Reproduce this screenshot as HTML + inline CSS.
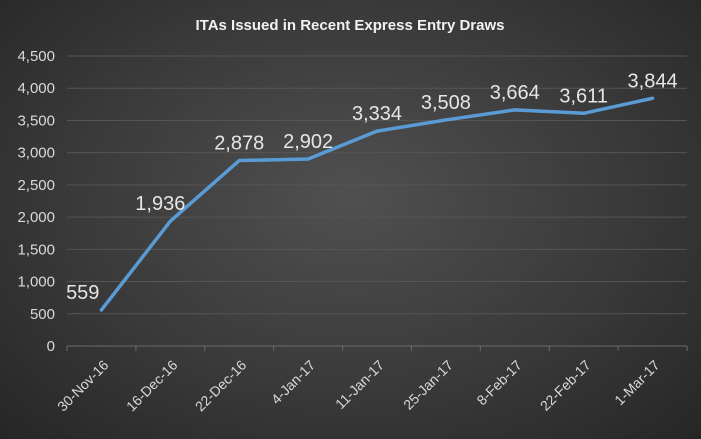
<!DOCTYPE html>
<html><head><meta charset="utf-8"><style>
html,body{margin:0;padding:0;}
body{width:701px;height:439px;overflow:hidden;background:radial-gradient(ellipse at 50% 45%,#505050 0%,#3a3a3a 55%,#262626 100%);font-family:"Liberation Sans",sans-serif;}
svg{display:block;}
</style></head><body>
<svg id="chart" width="701" height="439" xmlns="http://www.w3.org/2000/svg">
<text x="350" y="30" text-anchor="middle" fill="#f2f2f2" font-size="15" font-weight="bold" font-family="Liberation Sans, sans-serif">ITAs Issued in Recent Express Entry Draws</text>
<g id="grid"></g><g id="axes"></g><g id="series"></g><g id="labels"></g>
</svg>
<script>
const categories=["30-Nov-16","16-Dec-16","22-Dec-16","4-Jan-17","11-Jan-17","25-Jan-17","8-Feb-17","22-Feb-17","1-Mar-17"];
const values=[559,1936,2878,2902,3334,3508,3664,3611,3844];
const yTicks=[0,500,1000,1500,2000,2500,3000,3500,4000,4500];
const X0=67,X1=687,Y0=346,Y1=56,YMAX=4500;
const ns="http://www.w3.org/2000/svg";
const step=(X1-X0)/categories.length;
function xs(i){return X0+step*(i+0.5);}
function ys(v){return Y0-(v/YMAX)*(Y0-Y1);}
function mk(t,a,p){const e=document.createElementNS(ns,t);for(const k in a)e.setAttribute(k,a[k]);p.appendChild(e);return e;}
const grid=document.getElementById('grid'),axes=document.getElementById('axes'),ser=document.getElementById('series'),lab=document.getElementById('labels');
yTicks.forEach(v=>{
 const l=mk('line',{x1:X0,x2:X1,y1:ys(v),y2:ys(v),stroke:v===0?'#6a6a6a':'#555','stroke-width':1},grid);
 
 
 const t=mk('text',{x:X0-12,y:ys(v)+5,'text-anchor':'end',fill:'#d9d9d9','font-size':15},axes);
 t.textContent=v.toLocaleString('en-US');
 
 
});
for(let i=0;i<=categories.length;i++){
 const tk=mk('line',{x1:X0+step*i,x2:X0+step*i,y1:Y0,y2:Y0+5,stroke:'#6a6a6a'},axes);
 
 
}
categories.forEach((c,i)=>{
 const x=xs(i)+8,y=Y0+20;
 const t=mk('text',{x:x,y:y,'text-anchor':'end',fill:'#d9d9d9','font-size':14,transform:`rotate(-45 ${x} ${y})`},axes);
 t.textContent=c;
 
 
});
const pts=values.map((v,i)=>xs(i)+','+ys(v)).join(' ');
const pl=mk('polyline',{points:pts,fill:'none',stroke:'#5b9bd5','stroke-width':3.5,'stroke-linejoin':'round','stroke-linecap':'round'},ser);


values.forEach((v,i)=>{
 const dx=i===0?-2:(i===1?-10:0);
 const t=mk('text',{x:xs(i)+dx,y:ys(v)-11,'text-anchor':i===0?'end':'middle',fill:'#e6e6e6','font-size':20},lab);
 t.textContent=v.toLocaleString('en-US');
 
 
});
</script>
</body></html>
